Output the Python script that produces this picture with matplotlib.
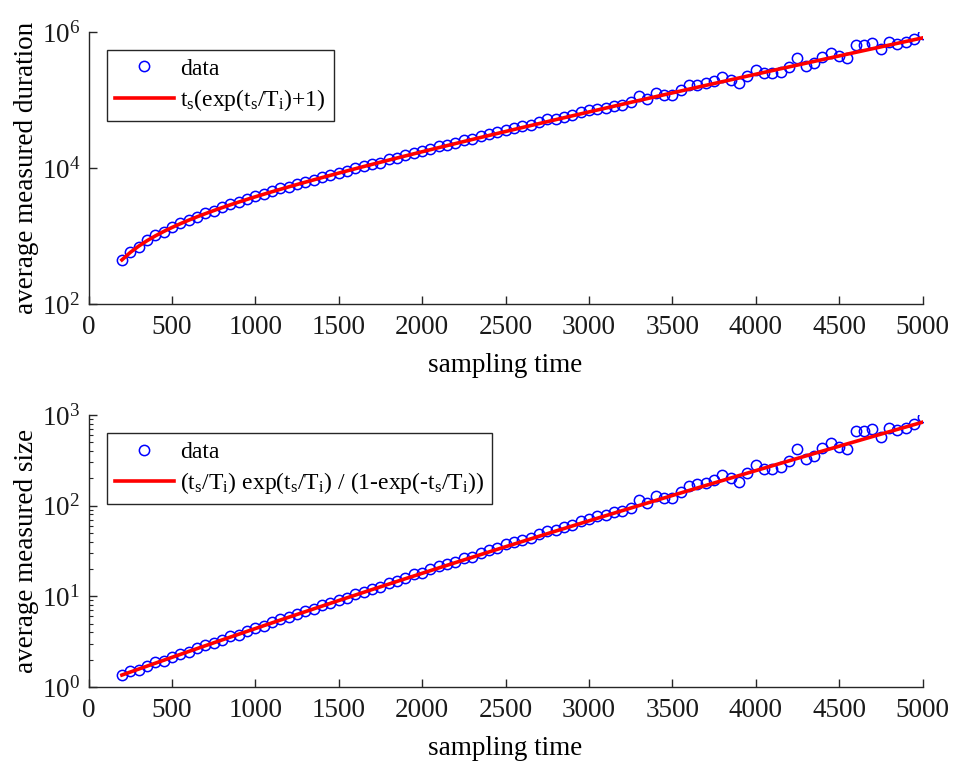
import matplotlib
matplotlib.use("Agg")
import matplotlib.pyplot as plt
from matplotlib.ticker import NullLocator, LogLocator

plt.rcParams['font.family'] = ['Liberation Serif', 'DejaVu Serif']
plt.rcParams['mathtext.fontset'] = 'custom'
plt.rcParams['mathtext.rm'] = 'Liberation Serif'
plt.rcParams['mathtext.it'] = 'Liberation Serif'

# sampling times (every 50 from 200 to 5000)
ts = list(range(200, 5001, 50))

# average measured duration (circles) and its fit (red line)
duration = [445, 583, 700, 859, 1021, 1150, 1345, 1543, 1705, 1929,
            2192, 2360, 2633, 2927, 3119, 3485, 3844, 4109, 4517, 5005,
            5273, 5828, 6247, 6688, 7442, 7876, 8578, 9063, 10053, 10610,
            11526, 12027, 13446, 14161, 15354, 16800, 17502, 19140, 20917, 21988,
            23328, 25965, 26752, 29196, 31846, 33430, 36790, 38606, 40884, 42861,
            47604, 51827, 53316, 56947, 59646, 65559, 70653, 74701, 76684, 82635,
            85568, 92199, 113083, 104862, 125897, 119198, 120200, 140026, 163651, 168067,
            175616, 188824, 216547, 199345, 178758, 226691, 273357, 248510, 248535, 259322,
            304777, 413686, 317948, 349314, 427732, 485846, 438500, 418098, 649500, 648874,
            682448, 568530, 704978, 674947, 704228, 781422, 924340]
duration_fit = [445, 572, 707, 850, 1001, 1162, 1332, 1513, 1705, 1910,
                2128, 2360, 2607, 2870, 3150, 3450, 3769, 4109, 4472, 4859,
                5273, 5714, 6185, 6688, 7225, 7798, 8410, 9063, 9760, 10505,
                11300, 12148, 13054, 14021, 15053, 16154, 17329, 18583, 19921, 21348,
                22871, 24495, 26227, 28073, 30043, 32144, 34383, 36768, 39312, 42021,
                44909, 47988, 51265, 54757, 58476, 62437, 66654, 71144, 75925, 81015,
                86432, 92199, 98333, 104862, 111809, 119198, 127061, 135422, 144313, 153767,
                163821, 174514, 185877, 197959, 210799, 224447, 238948, 254360, 270735, 288135,
                306617, 326251, 347105, 369254, 392775, 417752, 444276, 472427, 502320, 534053,
                567760, 603535, 641472, 681765, 724514, 769874, 818000]

# average measured size (circles) and its fit (red line)
size = [1.355, 1.490, 1.559, 1.715, 1.867, 1.951, 2.144, 2.333, 2.462, 2.677,
        2.938, 3.069, 3.335, 3.622, 3.781, 4.147, 4.501, 4.743, 5.147, 5.639,
        5.880, 6.440, 6.846, 7.276, 8.042, 8.462, 9.168, 9.639, 10.647, 11.193,
        12.118, 12.604, 14.051, 14.762, 15.969, 17.437, 18.132, 19.796, 21.601, 22.675,
        24.028, 26.713, 27.495, 29.982, 32.676, 34.275, 37.696, 39.535, 41.844, 43.847,
        48.675, 52.972, 54.475, 58.167, 60.904, 66.925, 72.110, 76.224, 78.233, 84.289,
        87.267, 94.016, 115.30, 106.90, 128.33, 121.49, 122.50, 142.69, 166.75, 171.25,
        178.93, 192.37, 220.60, 203.08, 182.10, 230.93, 278.45, 253.13, 253.15, 264.13,
        310.43, 421.36, 323.83, 355.77, 435.62, 494.81, 446.59, 425.80, 661.46, 660.81,
        695.01, 578.99, 717.94, 687.36, 717.18, 795.78, 941.31]
size_fit = [1.355, 1.461, 1.575, 1.698, 1.830, 1.971, 2.123, 2.287, 2.462, 2.650,
            2.852, 3.069, 3.302, 3.551, 3.819, 4.106, 4.413, 4.743, 5.096, 5.475,
            5.880, 6.314, 6.778, 7.276, 7.808, 8.378, 8.988, 9.639, 10.337, 11.082,
            11.880, 12.731, 13.642, 14.616, 15.656, 16.766, 17.952, 19.219, 20.572, 22.015,
            23.557, 25.201, 26.956, 28.829, 30.826, 32.957, 35.230, 37.652, 40.235, 42.987,
            45.920, 49.048, 52.380, 55.930, 59.710, 63.738, 68.028, 72.594, 77.458, 82.636,
            88.148, 94.016, 100.26, 106.90, 113.97, 121.49, 129.49, 138.00, 147.05, 156.68,
            166.91, 177.79, 189.36, 201.67, 214.74, 228.64, 243.40, 259.09, 275.76, 293.48,
            312.30, 332.30, 353.53, 376.08, 400.02, 425.46, 452.47, 481.13, 511.57, 543.88,
            578.21, 614.64, 653.27, 694.30, 737.84, 784.02, 833.02]

xticks = [0, 500, 1000, 1500, 2000, 2500, 3000, 3500, 4000, 4500, 5000]

fig = plt.figure(figsize=(9.54, 7.63), dpi=100)
ax1 = fig.add_axes([0.0928, 0.6016, 0.8742, 0.3565])
ax2 = fig.add_axes([0.0928, 0.0996, 0.8742, 0.3565])

axcol = '#262626'
fs = 19.5


def style(ax):
    for s in ['top', 'right']:
        ax.spines[s].set_visible(False)
    for s in ['left', 'bottom']:
        ax.spines[s].set_color(axcol)
        ax.spines[s].set_linewidth(1.0)
    ax.tick_params(which='major', direction='in', length=6, width=1.0,
                   colors=axcol, labelsize=fs, labelcolor='#1a1a1a')
    ax.tick_params(axis='x', which='major', pad=8)
    ax.tick_params(axis='y', which='major', pad=6)
    ax.tick_params(which='minor', direction='in', length=3.2, width=0.8,
                   colors=axcol)
    ax.set_xlim(0, 5000)
    ax.set_xticks(xticks)
    ax.set_xlabel('sampling time', fontsize=fs, labelpad=9)


# top: duration
ax1.plot(ts, duration, 'o', mfc='none', mec='#0000ff', ms=7.4, mew=1.1, label='data')
ax1.plot(ts, duration_fit, '-', color='#ff0000', lw=2.6,
         label=r't$_\mathrm{s}$(exp(t$_\mathrm{s}$/T$_\mathrm{i}$)+1)')
ax1.set_yscale('log')
ax1.set_ylim(1e2, 1e6)
ax1.set_yticks([1e2, 1e4, 1e6])
ax1.yaxis.set_minor_locator(NullLocator())
style(ax1)
ax1.set_ylabel('average measured duration', fontsize=fs, labelpad=2)

# bottom: size
ax2.plot(ts, size, 'o', mfc='none', mec='#0000ff', ms=7.4, mew=1.1, label='data')
ax2.plot(ts, size_fit, '-', color='#ff0000', lw=2.6,
         label=r'(t$_\mathrm{s}$/T$_\mathrm{i}$) exp(t$_\mathrm{s}$/T$_\mathrm{i}$) / '
               r'(1-exp(-t$_\mathrm{s}$/T$_\mathrm{i}$))')
ax2.set_yscale('log')
ax2.set_ylim(1, 1e3)
ax2.set_yticks([1, 10, 100, 1000])
ax2.yaxis.set_minor_locator(LogLocator(base=10, subs=range(2, 10)))
style(ax2)
ax2.set_ylabel('average measured size', fontsize=fs, labelpad=2)

for ax in (ax1, ax2):
    leg = ax.legend(loc='upper left', bbox_to_anchor=(18 / 834, 1 - 18 / 272),
                    borderaxespad=0, fontsize=17, frameon=True, fancybox=False,
                    edgecolor=axcol, framealpha=1, handlelength=2.5,
                    handletextpad=0.25, borderpad=0.35, labelspacing=0.3)
    leg.get_frame().set_linewidth(1.0)

fig.savefig('out.png', dpi=100)
